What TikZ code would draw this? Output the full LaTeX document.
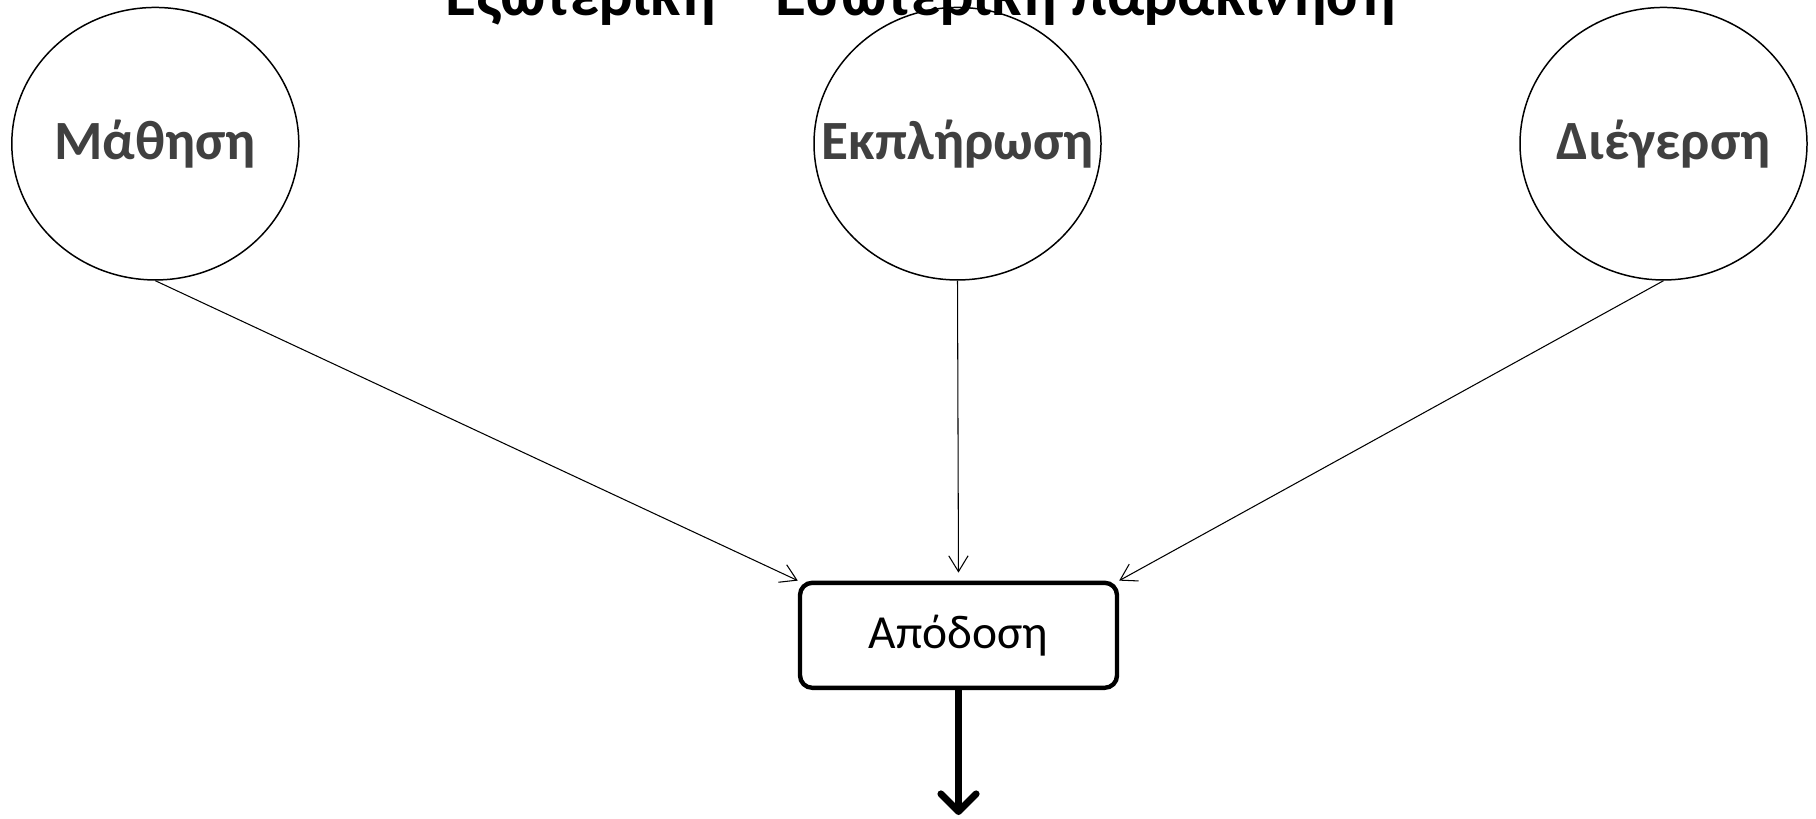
\documentclass[tikz,border=0pt]{standalone}
\usepackage{fontspec}
\setmainfont{Carlito}
\usepackage{tikz}
\usetikzlibrary{arrows.meta,shapes.geometric}
\definecolor{labelgray}{HTML}{404040}
\tikzset{
    ovalnode/.style={ellipse,draw=black,line width=0.85pt,inner sep=0pt,minimum width=5.74cm,minimum height=5.45cm,text=labelgray,font=\fontsize{31.5}{36}\selectfont\bfseries},
    boxnode/.style={rectangle,rounded corners=7pt,draw=black,line width=2.5pt,minimum width=6.34cm,minimum height=2.1cm,font=\fontsize{27}{32}\selectfont},
    titlenode/.style={anchor=base,inner sep=0pt,font=\fontsize{36}{40}\selectfont\bfseries},
    thinarrow/.style={-{Straight Barb[length=9pt,width=11pt]},line width=0.6pt},
    thickarrow/.style={-{Straight Barb[length=10pt,width=20pt,line cap=round,line join=round]},line width=4pt}
}

\begin{document}
\begin{tikzpicture}
\useasboundingbox (0,0) rectangle (36.32,-16.36);

\node[titlenode] (title) at (18.41,-0.30) {Εξωτερική – Εσωτερική παρακίνηση};

\node[ovalnode] (mathisi)   at (3.106,-2.874) {\makebox[0pt]{Μάθηση}};
\node[ovalnode] (ekplirosi) at (19.15,-2.874) {\makebox[0pt]{Εκπλήρωση}};
\node[ovalnode] (diegersi)  at (33.27,-2.874) {\makebox[0pt]{Διέγερση}};
\node[boxnode]  (apodosi)   at (19.17,-12.706) {Απόδοση};
\coordinate (exodos) at (19.17,-16.30);

\path[thinarrow]
(mathisi.south)   edge                     (apodosi.north west)
(ekplirosi.south) edge [shorten >=0.16cm]  (apodosi.north)
(diegersi.south)  edge                     (apodosi.north east)
;
\draw[thickarrow] (apodosi.south) -- (exodos);
\end{tikzpicture}
\end{document}
